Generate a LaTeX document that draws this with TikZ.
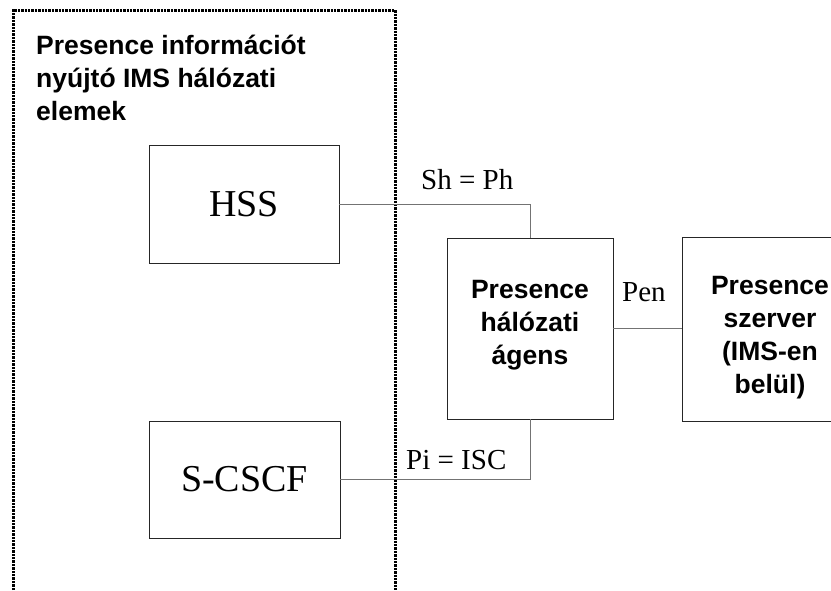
\documentclass[tikz,border=0pt]{standalone}
\usepackage{fontspec}
\setmainfont{Liberation Serif}
\newfontfamily\arialbold{Liberation Sans}[BoldFont={Liberation Sans Bold}]
\begin{document}
\begin{tikzpicture}[x=1pt,y=-1pt,
  element/.style={draw=black!85, line width=0.9pt, inner sep=0pt, fill=white},
  link/.style={draw=black!55, line width=0.9pt},
  boxlabel/.style={font=\fontsize{38}{44}\selectfont},
  iface/.style={font=\fontsize{29}{34}\selectfont, anchor=base west, inner sep=0pt},
  heading/.style={font=\arialbold\bfseries\fontsize{26.5}{33}\selectfont, inner sep=0pt},
  frame/.style={line width=3pt, dash pattern=on 2.4pt off 1pt}]
  \useasboundingbox (0,0) rectangle (831,590);

  % dotted frame around the IMS elements (open at the bottom)
  \draw[frame] (13,590) -- (13,10) -- (395,10) -- (395,590);
  \node[heading, anchor=west, align=left] (title) at (36,77.5)
    {Presence információt\\nyújtó IMS hálózati\\elemek};

  % network elements
  \node[element, boxlabel, minimum width=190pt, minimum height=118pt] (hss) at (244,204) {HSS};
  \node[element, boxlabel, minimum width=191pt, minimum height=117pt] (scscf) at (244.5,479.5) {S-CSCF};
  \node[element, minimum width=166pt, minimum height=181pt] (agent) at (530,328.5) {};
  \node[element, minimum width=176pt, minimum height=184pt] (server) at (770,329) {};

  \node[heading, align=center] (agenttext) at (530,325) {Presence\\hálózati\\ágens};
  \node[heading, align=center] (servertext) at (770,337.5) {Presence\\szerver\\(IMS-en\\belül)};

  % interfaces
  \draw[link] (hss.east) -| (agent.north);
  \draw[link] (scscf.east) -| (agent.south);
  \draw[link] (agent.east) -- (agent.east -| server.west);

  \node[iface] (sh) at (421,189) {Sh = Ph};
  \node[iface] (pi) at (406,469) {Pi = ISC};
  \node[iface] (pen) at (622,301) {Pen};
\end{tikzpicture}
\end{document}
